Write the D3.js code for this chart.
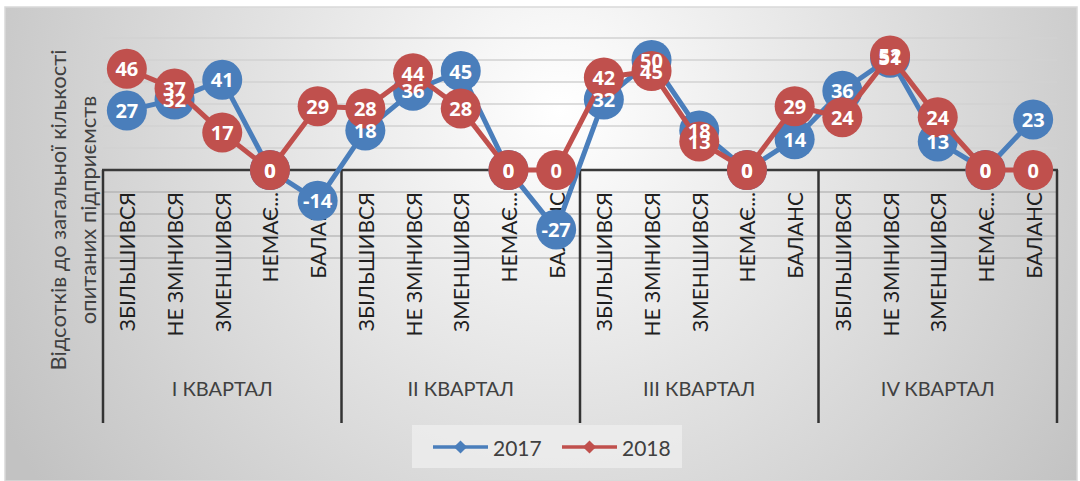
<!DOCTYPE html>
<html>
  <head>
    <meta charset="utf-8">
    <title>Баланс по кварталах</title>
    <script src="https://d3js.org/d3.v7.min.js"></script>
    <style>
      body { margin: 0; background: #ffffff; }
      .grid line { stroke: #d2d2d2; stroke-width: 1.5px; }
      .cat-label { font-family: Lato, sans-serif; font-size: 21px; fill: #1f1f1f; }
      .quarter-label { font-family: Lato, sans-serif; font-size: 20px; fill: #404040; text-anchor: middle; }
      .axis__label { font-family: Lato, sans-serif; font-size: 22px; fill: #404040; text-anchor: middle; }
      .data-label { font-family: "Open Sans", sans-serif; font-size: 20px; font-weight: bold; fill: #ffffff; text-anchor: middle; }
      .legend text { font-family: Lato, sans-serif; font-size: 21px; fill: #404040; }
    </style>
  </head>
  <body>
    <svg width="1080" height="481"></svg>
    <script>
      // data
      const categories = ["ЗБІЛЬШИВСЯ", "НЕ ЗМІНИВСЯ", "ЗМЕНШИВСЯ", "НЕМАЄ...", "БАЛАНС"];
      const quarters = ["I КВАРТАЛ", "II КВАРТАЛ", "III КВАРТАЛ", "IV КВАРТАЛ"];
      const values2017 = [27, 32, 41, 0, -14, 18, 36, 45, 0, -27, 32, 50, 18, 0, 14, 36, 51, 13, 0, 23];
      const values2018 = [46, 37, 17, 0, 29, 28, 44, 28, 0, 0, 42, 45, 13, 0, 29, 24, 52, 24, 0, 0];
      const yTicks = [-40, -30, -20, -10, 0, 10, 20, 30, 40, 50, 60];
      const seriesNames = ["2017", "2018"];
      const seriesColors = ["#4a7ebb", "#c0504d"];
      const yLabelLines = ["Відсотків до загальної кількості", "опитаних підприємств"];

      const plot = {left: 103, right: 1057, top: 38, bottom: 258};
      const labelTop = 192;
      const sepBottom = 423;
      const quarterLabelY = 388;
      const markerRadius = 20;

      const svg = d3.select("svg");

      // chart area background
      const defs = svg.append("defs");
      const grad = defs.append("radialGradient")
          .attr("id", "bg")
          .attr("gradientUnits", "userSpaceOnUse")
          .attr("cx", 560).attr("cy", 110).attr("r", 640);
      grad.append("stop").attr("offset", "0").attr("stop-color", "#ffffff");
      grad.append("stop").attr("offset", "1").attr("stop-color", "#c2c2c2");

      svg.append("rect")
          .attr("x", 5).attr("y", 7)
          .attr("width", 1072).attr("height", 474)
          .attr("fill", "url(#bg)")
          .attr("stroke", "#d9d9d9")
          .attr("stroke-width", 1.5);

      const rows = d3.range(values2017.length);
      const xScale = d3.scaleBand()
        .domain(rows)
        .range([plot.left, plot.right]);
      const xCenter = i => xScale(i) + xScale.bandwidth() / 2;
      const yScale = d3.scaleLinear()
        .domain([-40, 60])
        .range([plot.bottom, plot.top]);

      // gridlines
      svg.append("g")
          .attr("class", "grid")
        .selectAll("line")
        .data(yTicks.filter(d => d !== 0))
        .join("line")
          .attr("x1", plot.left)
          .attr("x2", plot.right)
          .attr("y1", d => yScale(d))
          .attr("y2", d => yScale(d))
          .style("stroke", d => d < 0 ? "#a6a6a6" : "#d2d2d2")
          .style("stroke-width", d => d < 0 ? 1.2 : 1.5);

      // category axis at zero
      svg.append("line")
          .attr("x1", plot.left - 1)
          .attr("x2", plot.right + 1)
          .attr("y1", yScale(0))
          .attr("y2", yScale(0))
          .attr("stroke", "#3a3a3a")
          .attr("stroke-width", 2.5);

      const sepX = d3.range(quarters.length + 1).map(q => q === quarters.length ? plot.right : xScale(q * categories.length));
      svg.append("g")
        .selectAll("line")
        .data(sepX)
        .join("line")
          .attr("x1", d => d)
          .attr("x2", d => d)
          .attr("y1", yScale(0))
          .attr("y2", sepBottom)
          .attr("stroke", "#333333")
          .attr("stroke-width", 2.5);

      svg.append("g")
        .selectAll("text")
        .data(rows)
        .join("text")
          .attr("class", "cat-label")
          .attr("text-anchor", "end")
          .attr("dominant-baseline", "central")
          .attr("transform", i => `translate(${xCenter(i)}, ${labelTop}) rotate(-90)`)
          .text(i => categories[i % categories.length]);

      svg.append("g")
        .selectAll("text")
        .data(quarters)
        .join("text")
          .attr("class", "quarter-label")
          .attr("x", (d, q) => (sepX[q] + sepX[q + 1]) / 2)
          .attr("y", quarterLabelY)
          .attr("dominant-baseline", "central")
          .text(d => d);

      // y axis title
      svg.append("text")
          .attr("class", "axis__label")
          .attr("transform", "translate(57, 210) rotate(-90)")
        .selectAll("tspan")
        .data(yLabelLines)
        .join("tspan")
          .attr("x", 0)
          .attr("y", (d, i) => i * 30)
          .attr("dominant-baseline", "central")
          .text(d => d);

      // series
      const series = [values2017, values2018];
      const line = d3.line()
        .x((d, i) => xCenter(i))
        .y(d => yScale(d));

      series.forEach((vals, s) => {
        const g = svg.append("g");
        g.append("path")
          .datum(vals)
          .attr("d", line)
          .attr("fill", "none")
          .attr("stroke", seriesColors[s])
          .attr("stroke-width", 5)
          .attr("stroke-linejoin", "round");
        g.selectAll("circle")
          .data(vals)
          .join("circle")
            .attr("cx", (d, i) => xCenter(i))
            .attr("cy", d => yScale(d))
            .attr("r", markerRadius)
            .attr("fill", seriesColors[s]);
      });

      series.forEach(vals => {
        svg.append("g")
          .selectAll("text")
          .data(vals)
          .join("text")
            .attr("class", "data-label")
            .attr("x", (d, i) => xCenter(i))
            .attr("y", d => yScale(d))
            .attr("dominant-baseline", "central")
            .text(d => d);
      });

      // legend
      const legendG = svg.append("g").attr("class", "legend");
      legendG.append("rect")
          .attr("x", 412).attr("y", 425)
          .attr("width", 270).attr("height", 43)
          .attr("fill", "#ededed")
          .attr("opacity", 0.8);
      const legendItems = legendG.selectAll("g")
        .data(seriesNames)
        .join("g")
          .attr("transform", (d, i) => `translate(${433 + i * 129}, 447)`);
      legendItems.append("line")
          .attr("x1", 0).attr("x2", 55)
          .attr("stroke", (d, i) => seriesColors[i])
          .attr("stroke-width", 3.5);
      legendItems.append("path")
          .attr("d", d3.symbol().type(d3.symbolDiamond2).size(110))
          .attr("transform", "translate(27.5, 0)")
          .attr("fill", (d, i) => seriesColors[i]);
      legendItems.append("text")
          .attr("x", 60)
          .attr("dominant-baseline", "central")
          .text(d => d);
    </script>
  </body>
</html>
